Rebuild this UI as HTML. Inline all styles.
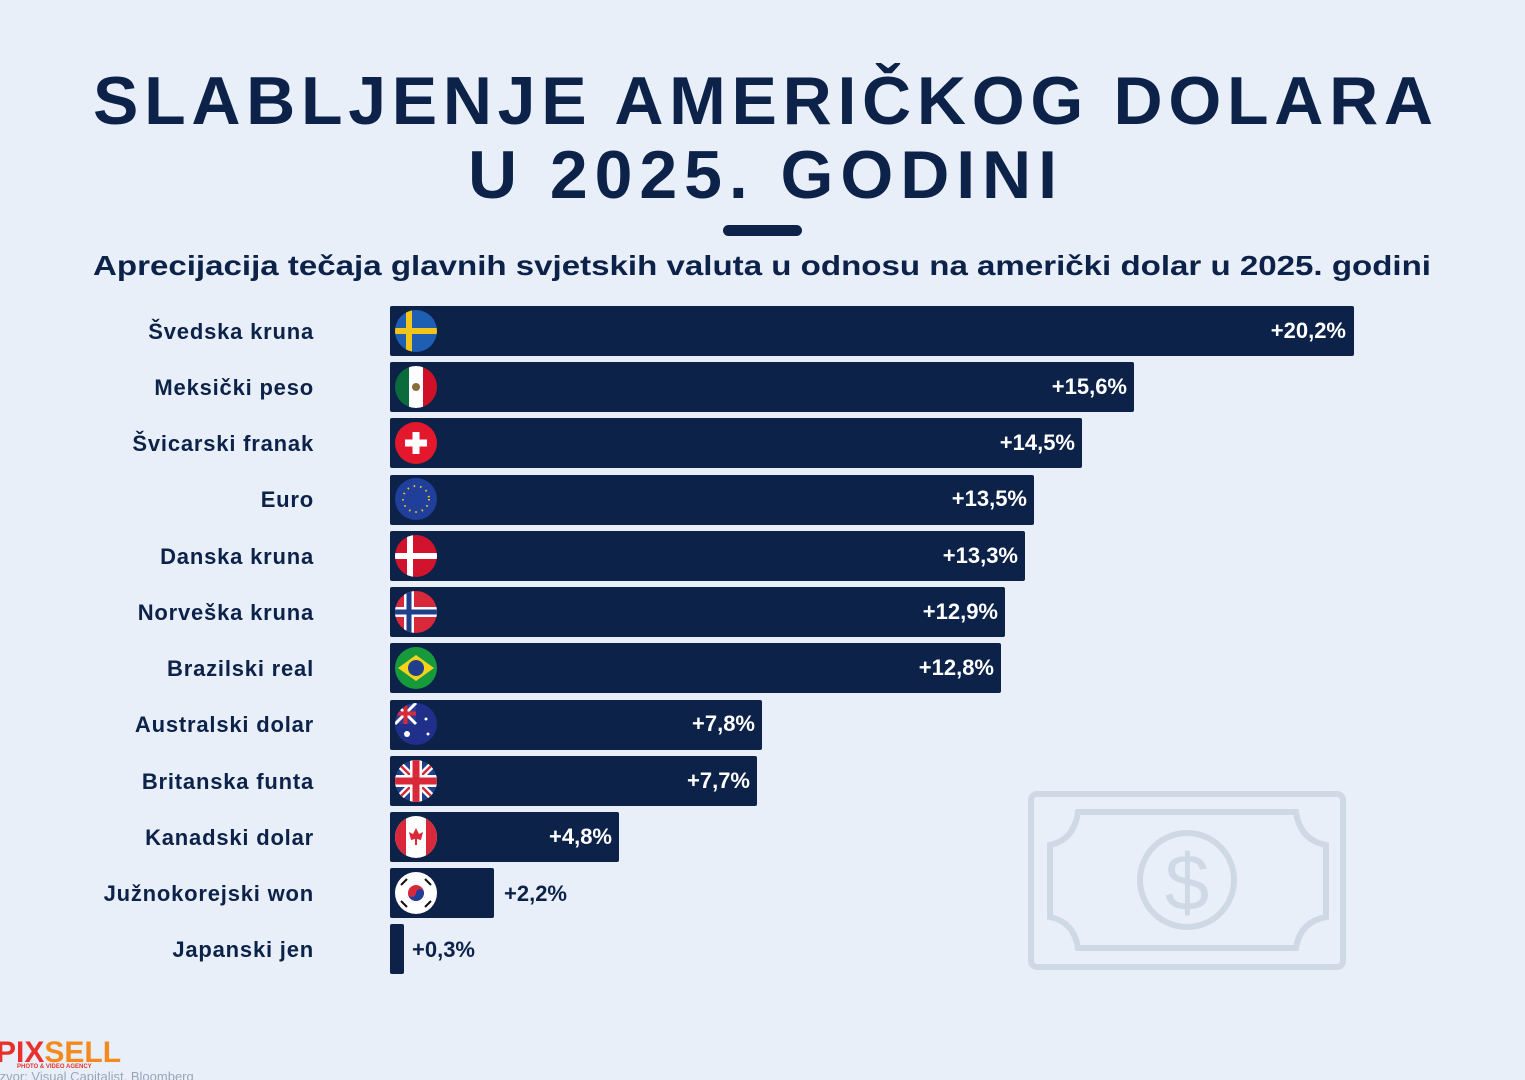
<!DOCTYPE html>
<html><head><meta charset="utf-8"><style>
html,body{margin:0;padding:0;background:#e8eff9;}
svg{display:block}
</style></head><body>
<svg width="1525" height="1080" viewBox="0 0 1525 1080" xmlns="http://www.w3.org/2000/svg">
<rect width="1525" height="1080" fill="#e8eff9"/>
<g font-family="Liberation Sans, DejaVu Sans, sans-serif" fill="#0c2249">
<text x="93" y="124" font-size="68" font-weight="bold" textLength="1340" lengthAdjust="spacing">SLABLJENJE AMERIČKOG DOLARA</text>
<text x="468" y="198" font-size="68" font-weight="bold" textLength="589" lengthAdjust="spacing">U 2025. GODINI</text>
<rect x="723" y="225" width="79" height="11" rx="5.5"/>
<text x="93" y="275" font-size="28" font-weight="bold" textLength="1338" lengthAdjust="spacingAndGlyphs">Aprecijacija tečaja glavnih svjetskih valuta u odnosu na američki dolar u 2025. godini</text>
</g>
<g fill="none" stroke="#cfd9e6" stroke-width="6">
<rect x="1031" y="794" width="312" height="173" rx="6"/>
<path d="M1078 812 H1296 Q1300 840 1326 845 V917 Q1300 922 1296 948 H1078 Q1074 922 1050 917 V845 Q1074 840 1078 812 Z"/>
<circle cx="1187" cy="880" r="47"/>
<text x="1187" y="910" text-anchor="middle" font-size="80" font-family="Liberation Sans, sans-serif" fill="#cfd9e6" stroke="none">$</text>
</g>
<defs>
<clipPath id="c"><circle cx="0" cy="0" r="21"/></clipPath>
</defs>
<g font-family="Liberation Sans, DejaVu Sans, sans-serif" font-weight="bold" font-size="22">
<g fill="#0c2249" text-anchor="end" letter-spacing="0.8">
<text x="314" y="339">Švedska kruna</text>
<text x="314" y="395">Meksički peso</text>
<text x="314" y="451">Švicarski franak</text>
<text x="314" y="507">Euro</text>
<text x="314" y="564">Danska kruna</text>
<text x="314" y="620">Norveška kruna</text>
<text x="314" y="676">Brazilski real</text>
<text x="314" y="732">Australski dolar</text>
<text x="314" y="789">Britanska funta</text>
<text x="314" y="845">Kanadski dolar</text>
<text x="314" y="901">Južnokorejski won</text>
<text x="314" y="957">Japanski jen</text>
</g>
<g fill="#0c2249">
<rect x="390" y="306" width="964" height="50" rx="2"/>
<rect x="390" y="362" width="744" height="50" rx="2"/>
<rect x="390" y="418" width="692" height="50" rx="2"/>
<rect x="390" y="475" width="644" height="50" rx="2"/>
<rect x="390" y="531" width="635" height="50" rx="2"/>
<rect x="390" y="587" width="615" height="50" rx="2"/>
<rect x="390" y="643" width="611" height="50" rx="2"/>
<rect x="390" y="700" width="372" height="50" rx="2"/>
<rect x="390" y="756" width="367" height="50" rx="2"/>
<rect x="390" y="812" width="229" height="50" rx="2"/>
<rect x="390" y="868" width="104" height="50" rx="2"/>
<rect x="390" y="924" width="14" height="50" rx="2"/>
</g>
<g fill="#ffffff" text-anchor="end">
<text x="1346" y="338">+20,2%</text>
<text x="1127" y="394">+15,6%</text>
<text x="1075" y="450">+14,5%</text>
<text x="1027" y="506">+13,5%</text>
<text x="1018" y="563">+13,3%</text>
<text x="998" y="619">+12,9%</text>
<text x="994" y="675">+12,8%</text>
<text x="755" y="731">+7,8%</text>
<text x="750" y="788">+7,7%</text>
<text x="612" y="844">+4,8%</text>
</g>
<g fill="#0c2249">
<text x="504" y="901">+2,2%</text>
<text x="412" y="957">+0,3%</text>
</g>
</g>
<g transform="translate(416,331)" clip-path="url(#c)"><rect x="-21" y="-21" width="42" height="42" fill="#1f5fb3"/><rect x="-10" y="-21" width="6" height="42" fill="#f3c41a"/><rect x="-21" y="-3" width="42" height="6" fill="#f3c41a"/></g>
<g transform="translate(416,387)" clip-path="url(#c)"><rect x="-21" y="-21" width="14" height="42" fill="#0a6b3c"/><rect x="-7" y="-21" width="14" height="42" fill="#fff"/><rect x="7" y="-21" width="14" height="42" fill="#ce1126"/><circle r="4" fill="#8a6b3a"/></g>
<g transform="translate(416,443)" clip-path="url(#c)"><rect x="-21" y="-21" width="42" height="42" fill="#e3182d"/><rect x="-3.5" y="-11" width="7" height="22" fill="#fff"/><rect x="-11" y="-3.5" width="22" height="7" fill="#fff"/></g>
<g transform="translate(416,499)" clip-path="url(#c)"><rect x="-21" y="-21" width="42" height="42" fill="#1f3f9a"/><circle r="13" fill="none" stroke="#f3c41a" stroke-width="2" stroke-dasharray="1.5 5"/></g>
<g transform="translate(416,556)" clip-path="url(#c)"><rect x="-21" y="-21" width="42" height="42" fill="#d2132e"/><rect x="-9" y="-21" width="6" height="42" fill="#fff"/><rect x="-21" y="-3" width="42" height="6" fill="#fff"/></g>
<g transform="translate(416,612)" clip-path="url(#c)"><rect x="-21" y="-21" width="42" height="42" fill="#d9283a"/><rect x="-12" y="-21" width="10" height="42" fill="#fff"/><rect x="-21" y="-5" width="42" height="10" fill="#fff"/><rect x="-9.5" y="-21" width="5" height="42" fill="#1f3f8a"/><rect x="-21" y="-2.5" width="42" height="5" fill="#1f3f8a"/></g>
<g transform="translate(416,668)" clip-path="url(#c)"><rect x="-21" y="-21" width="42" height="42" fill="#179a3c"/><path d="M-18 0 L0 -13 L18 0 L0 13 Z" fill="#f6d21c"/><circle r="8" fill="#1f3f8a"/></g>
<g transform="translate(416,724)" clip-path="url(#c)"><rect x="-21" y="-21" width="42" height="42" fill="#1f2f8a"/><rect x="-21" y="-21" width="21" height="21" fill="#2a3c94"/><path d="M-21 -21 L0 0 M0 -21 L-21 0" stroke="#fff" stroke-width="3"/><path d="M-10.5 -21 V0 M-21 -10.5 H0" stroke="#d9283a" stroke-width="4"/><circle cx="-9" cy="10" r="3" fill="#fff"/><circle cx="10" cy="-5" r="1.5" fill="#fff"/><circle cx="12" cy="10" r="1.5" fill="#fff"/></g>
<g transform="translate(416,781)" clip-path="url(#c)"><rect x="-21" y="-21" width="42" height="42" fill="#1f3f8a"/><path d="M-21 -21 L21 21 M21 -21 L-21 21" stroke="#fff" stroke-width="7"/><path d="M-21 -21 L21 21 M21 -21 L-21 21" stroke="#d9283a" stroke-width="2.5"/><rect x="-6" y="-21" width="12" height="42" fill="#fff"/><rect x="-21" y="-6" width="42" height="12" fill="#fff"/><rect x="-3.5" y="-21" width="7" height="42" fill="#d9283a"/><rect x="-21" y="-3.5" width="42" height="7" fill="#d9283a"/></g>
<g transform="translate(416,837)" clip-path="url(#c)"><rect x="-21" y="-21" width="42" height="42" fill="#fff"/><rect x="-21" y="-21" width="11" height="42" fill="#d9283a"/><rect x="10" y="-21" width="11" height="42" fill="#d9283a"/><path d="M0 -9 L3 -3 L7 -5 L5 3 L1 2 L1 8 L-1 8 L-1 2 L-5 3 L-7 -5 L-3 -3 Z" fill="#d9283a"/></g>
<g transform="translate(416,893)" clip-path="url(#c)"><rect x="-21" y="-21" width="42" height="42" fill="#fff"/><circle r="8" fill="#d9283a"/><path d="M-8 0 A8 8 0 0 0 8 0 A4 4 0 0 0 0 0 A4 4 0 0 1 -8 0Z" fill="#1f3f9a"/><g stroke="#111" stroke-width="2"><path d="M-15 -8 L-9 -14 M9 -14 L15 -8 M-15 8 L-9 14 M9 14 L15 8"/></g></g>
<g font-family="Liberation Sans, sans-serif" font-weight="bold">
<text x="-4" y="1062" font-size="30" fill="#e8312b">PIX<tspan fill="#f28a1e">SELL</tspan></text>
<text x="17" y="1068" font-size="6" fill="#e8312b">PHOTO &amp; VIDEO AGENCY</text>
<text x="-4" y="1081" font-size="13" font-weight="normal" fill="#9aa6b8">Izvor: Visual Capitalist, Bloomberg</text>
</g>
</svg>
</body></html>
